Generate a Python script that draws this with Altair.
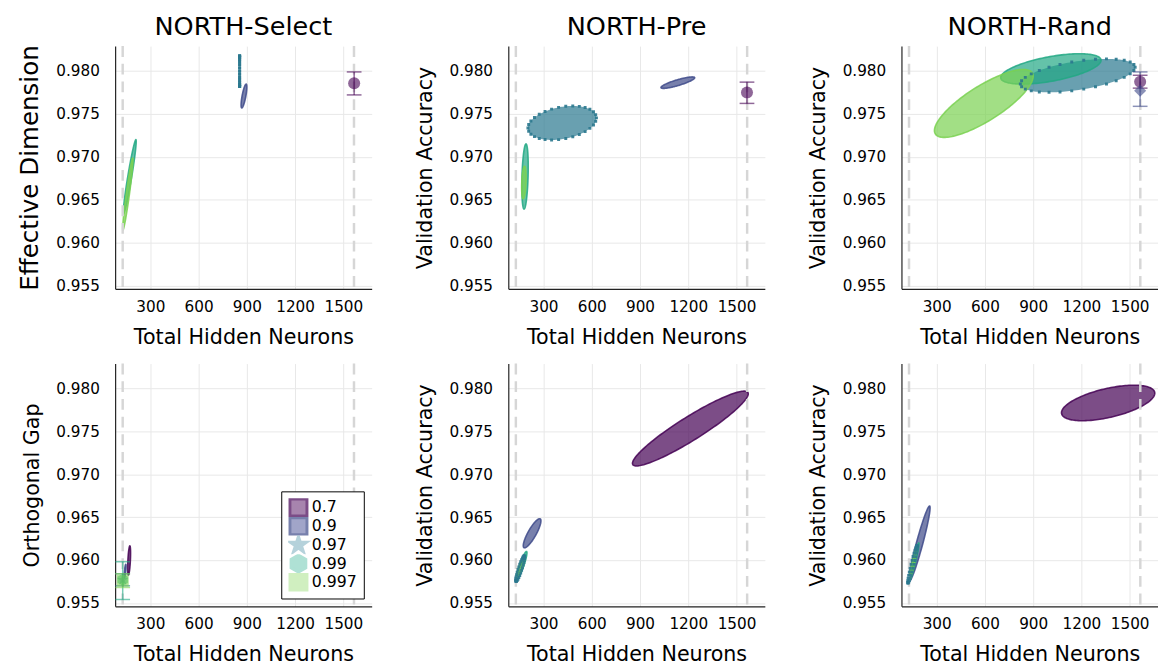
import altair as alt
import numpy as np
import pandas as pd

# ---------------- data ----------------
series = ["0.7", "0.9", "0.97", "0.99", "0.997"]
series_colors = ["#440154", "#3e4a89", "#2a788e", "#22a884", "#7ad151"]
legend_fill = ["#82508c", "#7a7fb3", "#96bfcc", "#8dd4c3", "#bde8a5"]
legend_stroke = ["#440154", "#3e4a89", "#96bfcc", "#8dd4c3", "#bde8a5"]
HEX = "M0,-1L0.866,-0.5L0.866,0.5L0,1L-0.866,0.5L-0.866,-0.5Z"
STAR = ("M0,-1L0.2234,-0.3074L0.9511,-0.309L0.3614,0.1174L0.5878,0.809L0,0.38"
        "L-0.5878,0.809L-0.3614,0.1174L-0.9511,-0.309L-0.2234,-0.3074Z")
legend_shapes = ["square", "square", STAR, HEX, "square"]
point_shapes = ["circle", "diamond", STAR, HEX, "square"]

panels = ["sel_top", "pre_top", "rand_top", "sel_bot", "pre_bot", "rand_bot"]
panel_titles = ["NORTH-Select", "NORTH-Pre", "NORTH-Rand", "", "", ""]
panel_ytitles = ["Effective Dimension", "Validation Accuracy", "Validation Accuracy",
                 "Orthogonal Gap", "Validation Accuracy", "Validation Accuracy"]

x_ticks = [300, 600, 900, 1200, 1500]
y_ticks = [0.955, 0.960, 0.965, 0.970, 0.975, 0.980]
vline_x = [128, 1566]

# confidence ellipses: centre, half-extent in x and y, correlation
ell_panel = ["sel_top", "sel_top", "sel_top", "sel_top",
             "pre_top", "pre_top", "pre_top", "pre_top",
             "rand_top", "rand_top", "rand_top",
             "sel_bot", "sel_bot",
             "pre_bot", "pre_bot", "pre_bot", "pre_bot", "pre_bot",
             "rand_bot", "rand_bot", "rand_bot", "rand_bot", "rand_bot"]
ell_series = ["0.9", "0.97", "0.99", "0.997",
              "0.9", "0.97", "0.99", "0.997",
              "0.97", "0.99", "0.997",
              "0.7", "0.9",
              "0.7", "0.9", "0.97", "0.99", "0.997",
              "0.7", "0.9", "0.97", "0.99", "0.997"]
ell_cx = [882, 855, 172, 160,
          1135, 416, 185, 178,
          1177, 1010, 593,
          168, 143,
          1213, 229, 155, 165, 158,
          1366, 193, 150, 160, 155]
ell_cy = [0.97708, 0.97998, 0.96770, 0.96565,
          0.97864, 0.97394, 0.96770, 0.96700,
          0.97946, 0.98024, 0.97622,
          0.95995, 0.95870,
          0.97533, 0.96312, 0.95900, 0.95940, 0.95920,
          0.97831, 0.96190, 0.95950, 0.95980, 0.95970]
ell_sx = [18, 0.5, 40, 32,
          105, 213, 20, 14,
          357, 312, 307,
          9, 6,
          360, 55, 28, 32, 28,
          290, 66, 30, 30, 25]
ell_sy = [0.00139, 0.00181, 0.00430, 0.00420,
          0.00067, 0.00198, 0.00380, 0.00190,
          0.00195, 0.00177, 0.00396,
          0.00170, 0.00080,
          0.00436, 0.00170, 0.00150, 0.00160, 0.00130,
          0.00207, 0.00440, 0.00220, 0.00220, 0.00200]
ell_rho = [0.75, 0.0, 0.95, 0.95,
           0.85, 0.30, 0.30, 0.30,
           0.50, 0.57, 0.80,
           0.50, 0.70,
           0.93, 0.85, 0.90, 0.90, 0.90,
           0.55, 0.95, 0.95, 0.95, 0.95]

# single points with error bars
pt_panel = ["sel_top", "pre_top", "rand_top", "rand_top", "sel_bot", "sel_bot", "sel_bot"]
pt_series = ["0.7", "0.7", "0.7", "0.9", "0.97", "0.99", "0.997"]
pt_x = [1567, 1565, 1565, 1565, 128, 128, 128]
pt_y = [0.97858, 0.97748, 0.97874, 0.97770, 0.95770, 0.95770, 0.95760]
pt_lo = [0.97721, 0.97622, 0.97800, 0.97588, 0.95700, 0.95540, 0.95680]
pt_hi = [0.97989, 0.97870, 0.97950, 0.97989, 0.95840, 0.95980, 0.95840]

# ---------------- build tables ----------------
col_of = dict(zip(series, series_colors))
rank_of = {s: i for i, s in enumerate(series)}

area_rows, dot_rows = [], []
for k in range(len(ell_panel)):
    cx, cy, sx, sy, r = ell_cx[k], ell_cy[k], ell_sx[k], ell_sy[k], ell_rho[k]
    s = ell_series[k]
    q = float(np.sqrt(1 - r * r))
    eid = f"{rank_of[s]}_{k:02d}"
    sop = 0.0 if s == "0.97" else 0.85
    for t in np.linspace(0, np.pi, 80):
        c, sn = float(np.cos(t)), float(np.sin(t))
        area_rows.append(dict(panel=ell_panel[k], eid=eid, x=cx + sx * c,
                              yu=cy + sy * (r * c + q * sn), yl=cy + sy * (r * c - q * sn),
                              fillc=col_of[s], strokec=col_of[s], sop=sop))
    if s == "0.97":
        for t in np.linspace(0, 2 * np.pi, 31)[:-1]:
            c, sn = float(np.cos(t)), float(np.sin(t))
            dot_rows.append(dict(panel=ell_panel[k], x=cx + sx * c,
                                 y=cy + sy * (r * c + q * sn), col=col_of[s]))
area_df = pd.DataFrame(area_rows)
dot_df = pd.DataFrame(dot_rows)
pt_df = pd.DataFrame(dict(panel=pt_panel, series=pt_series, x=pt_x, y=pt_y, lo=pt_lo, hi=pt_hi))
pt_df["col"] = pt_df.series.map(col_of)
pt_df["shape"] = pt_df.series.map(dict(zip(series, point_shapes)))
vl_df = pd.DataFrame(dict(x=vline_x))
leg_df = pd.DataFrame(dict(series=series, x=[-2000.0] * 5, y=[0.96] * 5))

FONT = "DejaVu Sans"
XDOM = [81, 1676]
YDOM = [0.9546, 0.9829]
W, H = 261, 247


def xenc(field="x"):
    return alt.X(f"{field}:Q", scale=alt.Scale(domain=XDOM, nice=False, zero=False),
                 axis=alt.Axis(values=x_ticks, title="Total Hidden Neurons", labelPadding=11,
                               titlePadding=12, format="d"))


def yenc(field, i):
    tfs = 25 if i == 0 else 21
    return alt.Y(f"{field}:Q", scale=alt.Scale(domain=YDOM, nice=False, zero=False),
                 axis=alt.Axis(values=y_ticks, title=panel_ytitles[i], format=".3f",
                               labelPadding=16, titlePadding=14, titleFontSize=tfs))


charts = []
for i, p in enumerate(panels):
    layers = []
    a = area_df[area_df.panel == p]
    layers.append(alt.Chart(a).mark_area(clip=True, fillOpacity=0.7, strokeWidth=1.6).encode(
        x=xenc(), y=yenc("yu", i), y2="yl",
        fill=alt.Fill("fillc:N", scale=None),
        stroke=alt.Stroke("strokec:N", scale=None),
        strokeOpacity=alt.StrokeOpacity("sop:Q", scale=None),
        detail="eid:N"))
    layers.append(alt.Chart(vl_df).mark_rule(color="#d6d6d6", strokeWidth=2.5,
                                             strokeDash=[11, 7]).encode(x=xenc()))
    d = dot_df[dot_df.panel == p]
    if len(d):
        layers.append(alt.Chart(d).mark_point(shape="square", filled=True, size=9,
                                              opacity=0.9, clip=True).encode(
            x=xenc(), y=yenc("y", i), color=alt.Color("col:N", scale=None)))
    pp = pt_df[pt_df.panel == p]
    if len(pp):
        layers.append(alt.Chart(pp).mark_rule(strokeWidth=1.5, opacity=0.6).encode(
            x=xenc(), y=yenc("lo", i), y2="hi", color=alt.Color("col:N", scale=None)))
        for f in ["lo", "hi"]:
            layers.append(alt.Chart(pp).mark_tick(orient="horizontal", size=15, thickness=1.5,
                                                  opacity=0.6).encode(
                x=xenc(), y=yenc(f, i), color=alt.Color("col:N", scale=None)))
        layers.append(alt.Chart(pp).mark_point(filled=True, size=150, opacity=0.6).encode(
            x=xenc(), y=yenc("y", i), color=alt.Color("col:N", scale=None),
            shape=alt.Shape("shape:N", scale=None)))
    if p == "sel_bot":
        lg = alt.Legend(orient="bottom-right", offset=8, title=None,
                        labelFontSize=16, labelFont=FONT, symbolSize=300,
                        strokeColor="black", fillColor="white", padding=7,
                        rowPadding=0, labelOffset=3, symbolStrokeWidth=3, clipHeight=19)
        layers.append(alt.Chart(leg_df).mark_point(filled=True, clip=True, strokeWidth=3).encode(
            x=xenc(), y=yenc("y", i),
            fill=alt.Fill("series:N", scale=alt.Scale(domain=series, range=legend_fill),
                          legend=lg),
            stroke=alt.Stroke("series:N", scale=alt.Scale(domain=series, range=legend_stroke),
                              legend=lg),
            shape=alt.Shape("series:N", scale=alt.Scale(domain=series, range=legend_shapes),
                            legend=lg)))
    ch = alt.layer(*layers).properties(width=W, height=H)
    if panel_titles[i]:
        ch = ch.properties(title=panel_titles[i])
    charts.append(ch)

chart = alt.concat(*charts, columns=3, spacing={"row": 76, "column": 139}, bounds="flush")
chart = chart.resolve_scale(fill="independent", stroke="independent", shape="independent") \
    .resolve_legend(fill="independent", stroke="independent", shape="independent")
chart = chart.properties(padding={"left": 9, "top": 0, "right": 0, "bottom": 0}) \
    .configure_view(stroke=None) \
    .configure_axis(grid=True, gridColor="#e8e8e8", gridWidth=1, domainColor="#222222",
                    domainWidth=1.2, ticks=False, labelFont=FONT, titleFont=FONT,
                    labelFontSize=15.5, titleFontSize=21, titleFontWeight="normal",
                    labelColor="black", titleColor="black") \
    .configure_title(font=FONT, fontSize=26, fontWeight="normal", anchor="middle",
                     offset=5, color="black")

chart.save("out.html", embed_options={"renderer": "svg", "actions": False})
